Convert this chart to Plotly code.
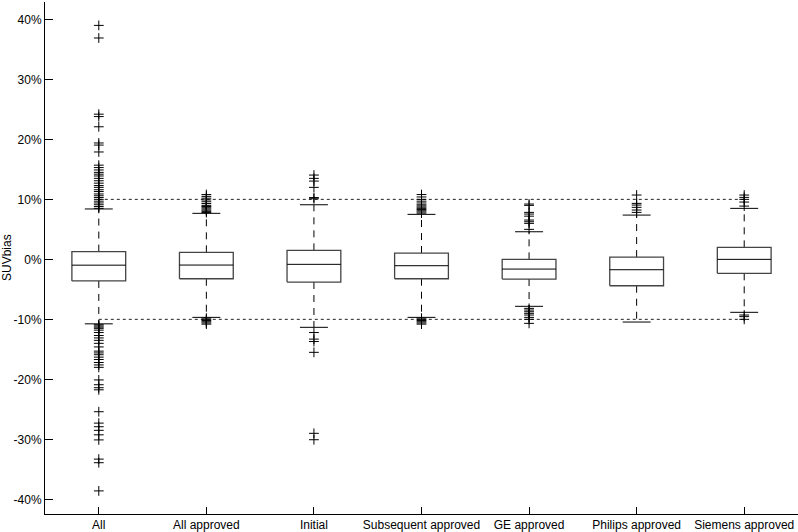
import plotly.graph_objects as go

categories = ["All", "All approved", "Initial", "Subsequent approved",
              "GE approved", "Philips approved", "Siemens approved"]

q1 = [-3.6, -3.23, -3.78, -3.23, -3.28, -4.4, -2.33]
median = [-0.97, -0.95, -0.83, -1.06, -1.62, -1.73, 0.0]
q3 = [1.3, 1.17, 1.5, 1.05, 0.0, 0.38, 2.0]
lower_whisker = [-10.75, -9.67, -11.33, -9.67, -7.83, -10.45, -8.83]
upper_whisker = [8.4, 7.67, 9.1, 7.5, 4.6, 7.38, 8.5]

outliers = [
    [39.0, 36.9, 24.2, 23.8, 22.1, 19.4, 19.05, 17.9,
     15.7, 15.3, 14.9, 14.5, 14.2, 13.9, 13.5, 13.1, 12.7, 12.3, 12.0,
     11.6, 11.3, 10.9, 10.6, 10.3, 10.0, 9.7, 9.4, 9.1, 8.8, 8.5,
     -10.9, -11.1, -11.3, -11.5, -11.8, -12.2, -12.7, -13.1, -13.5, -14.0,
     -14.6, -15.3, -15.6, -15.9, -16.3, -16.7, -17.2, -17.6, -18.0,
     -20.1, -20.9, -21.4, -21.75, -25.4, -27.3, -27.9, -28.5, -29.25,
     -30.1, -33.3, -33.9, -38.6],
    [10.8, 10.5, 10.2, 9.9, 9.6, 9.3, 9.0, 8.8, 8.6, 8.4, 8.2, 8.0, 7.8,
     -9.8, -10.0, -10.2, -10.4, -10.6, -10.8],
    [14.05, 13.5, 13.05, 12.0, 10.3, 10.1,
     -12.2, -13.3, -13.7, -15.5, -29.0, -30.07],
    [10.8, 10.4, 10.0, 9.7, 9.4, 9.1, 8.9, 8.7, 8.5, 8.3, 8.1, 7.9, 7.7,
     -9.8, -10.0, -10.2, -10.4, -10.6, -10.8],
    [9.22, 9.0, 7.83, 7.55, 7.2, 6.55, 6.27, 6.0, 5.0,
     -8.17, -8.45, -8.73, -9.0, -9.28, -9.67, -10.0, -10.67],
    [10.72, 9.33, 9.05, 8.67, 8.22, 7.83],
    [10.72, 10.33, 10.0, 9.55, 8.88, -9.28, -9.55, -10.0],
]

ref_levels = [10, -10]
y_ticks = [-40, -30, -20, -10, 0, 10, 20, 30, 40]
y_tick_text = ["-40%", "-30%", "-20%", "-10%", "0%", "10%", "20%", "30%", "40%"]

box_half = 0.25
cap_half = 0.13

fig = go.Figure()

pos = list(range(len(categories)))

# reference dotted lines
for lv in ref_levels:
    fig.add_trace(go.Scatter(x=[pos[0], pos[-1]], y=[lv, lv], mode="lines",
                             line=dict(color="#222", width=1, dash="dot"),
                             hoverinfo="skip", showlegend=False))

# whiskers (dashed)
wx, wy = [], []
for i in pos:
    wx += [i, i, None, i, i, None]
    wy += [q3[i], upper_whisker[i], None, q1[i], lower_whisker[i], None]
fig.add_trace(go.Scatter(x=wx, y=wy, mode="lines",
                         line=dict(color="black", width=1, dash="7px,6px"),
                         hoverinfo="skip", showlegend=False))

# caps
cx, cy = [], []
for i in pos:
    cx += [i - cap_half, i + cap_half, None, i - cap_half, i + cap_half, None]
    cy += [upper_whisker[i], upper_whisker[i], None,
           lower_whisker[i], lower_whisker[i], None]
fig.add_trace(go.Scatter(x=cx, y=cy, mode="lines",
                         line=dict(color="black", width=1),
                         hoverinfo="skip", showlegend=False))

# boxes
bx, by = [], []
for i in pos:
    bx += [i - box_half, i + box_half, i + box_half, i - box_half, i - box_half, None]
    by += [q1[i], q1[i], q3[i], q3[i], q1[i], None]
fig.add_trace(go.Scatter(x=bx, y=by, mode="lines",
                         line=dict(color="#444", width=1.3),
                         hoverinfo="skip", showlegend=False))

# medians
mx, my = [], []
for i in pos:
    mx += [i - box_half, i + box_half, None]
    my += [median[i], median[i], None]
fig.add_trace(go.Scatter(x=mx, y=my, mode="lines",
                         line=dict(color="black", width=1),
                         hoverinfo="skip", showlegend=False))

# outliers
ox, oy = [], []
for i in pos:
    for v in outliers[i]:
        ox.append(i)
        oy.append(v)
fig.add_trace(go.Scatter(x=ox, y=oy, mode="markers",
                         marker=dict(symbol="cross-thin", size=7,
                                     line=dict(color="black", width=1)),
                         hoverinfo="skip", showlegend=False))

font_family = "Liberation Sans, Arial, Helvetica, sans-serif"

fig.update_layout(
    width=798, height=532,
    margin=dict(l=45, r=0, t=2, b=18),
    paper_bgcolor="white", plot_bgcolor="white",
    font=dict(family=font_family, size=12, color="black"),
    showlegend=False,
    xaxis=dict(range=[-0.5, 6.5], tickmode="array", tickvals=pos,
               ticktext=categories, ticks="inside", ticklen=7,
               tickcolor="black", showline=True, linecolor="black",
               linewidth=1, showgrid=False, zeroline=False,
               automargin=False, fixedrange=True),
    yaxis=dict(range=[-42.45, 42.9], tickmode="array", tickvals=y_ticks,
               ticktext=y_tick_text, ticks="inside", ticklen=8,
               tickcolor="black", showline=True, linecolor="black",
               linewidth=1, showgrid=False, zeroline=False,
               automargin=False, fixedrange=True),
    annotations=[dict(text="SUVbias", xref="paper", yref="paper",
                      x=0, y=0.5, xshift=-38, xanchor="center",
                      yanchor="middle", textangle=-90, showarrow=False,
                      font=dict(size=12, family=font_family, color="black"))],
)

fig.write_html("out.html",
               config={"displayModeBar": False},
               post_script="document.body.style.margin='0';"
                           "document.body.style.overflow='hidden';")
